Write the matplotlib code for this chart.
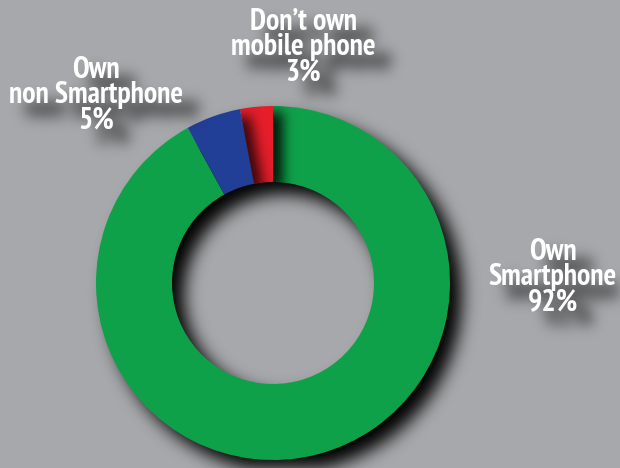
import numpy as np
import matplotlib
matplotlib.use("Agg")
import matplotlib.pyplot as plt
from matplotlib import font_manager

# Survey shares
labels = ["Don\u2019t own\nmobile phone", "Own\nnon Smartphone", "Own\nSmartphone"]
shares = [3, 5, 92]
colors = ["#e61e2a", "#223f97", "#0fa14a"]

W, H, DPI = 620, 468, 100
BG = "#a7a8ab"
CENTER = (273, 185)
RADIUS = 177
RING = 76
LABEL_XY = [(303, 421), (96, 373), (553, 191)]

names = {f.name for f in font_manager.fontManager.ttflist}
FONT = ["PT Sans Narrow", "Liberation Sans", "DejaVu Sans"]
FONT = [f for f in FONT if f in names] or ["DejaVu Sans"]
TEXT_KW = dict(ha="center", va="center", fontsize=21.5, fontweight="bold",
               family=FONT, linespacing=0.88)


def gaussian_blur(a, sigma):
    r = int(3 * sigma)
    x = np.arange(-r, r + 1)
    k = np.exp(-x ** 2 / (2 * sigma ** 2))
    k /= k.sum()
    a = np.pad(a, r, mode="constant")
    a = np.apply_along_axis(lambda v: np.convolve(v, k, mode="valid"), 0, a)
    a = np.apply_along_axis(lambda v: np.convolve(v, k, mode="valid"), 1, a)
    return a


def shift(a, dx, dy):
    out = np.zeros_like(a)
    out[dy:, dx:] = a[:a.shape[0] - dy, :a.shape[1] - dx]
    return out


def setup(ax):
    ax.set_xlim(0, W)
    ax.set_ylim(0, H)
    ax.set_aspect("auto")
    ax.axis("off")


def draw_pie(ax):
    wedges, _ = ax.pie(shares, colors=colors, startangle=90, counterclock=True,
                       radius=RADIUS, center=CENTER,
                       wedgeprops=dict(width=RING, linewidth=0))
    return wedges


def draw_labels(ax, color, zorder=10):
    for (x, y), lab, s in zip(LABEL_XY, labels, shares):
        ax.text(x, y, f"{lab}\n{s}%", color=color, zorder=zorder, **TEXT_KW)


def alpha_mask(draw):
    f = plt.figure(figsize=(W / DPI, H / DPI), dpi=DPI)
    f.patch.set_alpha(0)
    a = f.add_axes([0, 0, 1, 1])
    draw(a)
    setup(a)
    f.canvas.draw()
    m = np.asarray(f.canvas.buffer_rgba())[..., 3].astype(float) / 255.0
    plt.close(f)
    return m


def only_wedge(i):
    def draw(ax):
        ws = draw_pie(ax)
        for j, w in enumerate(ws):
            w.set_visible(j == i)
            w.set_facecolor("black")
    return draw


def shadow_image(mask, dx, dy, sigma, strength):
    m = gaussian_blur(shift(mask, dx, dy), sigma)
    img = np.zeros((H, W, 4))
    img[..., 3] = np.clip(m * strength, 0, 1)
    return img


ring_mask = alpha_mask(lambda ax: draw_pie(ax))
red_mask = alpha_mask(only_wedge(0))
blue_mask = alpha_mask(only_wedge(1))
text_mask = alpha_mask(lambda ax: draw_labels(ax, "black"))

fig = plt.figure(figsize=(W / DPI, H / DPI), dpi=DPI, facecolor=BG)
ax = fig.add_axes([0, 0, 1, 1])
ax.set_facecolor(BG)

wedges = draw_pie(ax)
wedges[2].set_zorder(2)
wedges[0].set_zorder(4)
wedges[1].set_zorder(6)

ext = dict(extent=(0, W, 0, H), origin="upper", interpolation="bilinear")
ax.imshow(shadow_image(ring_mask, 12, 12, 8.5, 1.0), zorder=1, **ext)
im_r = ax.imshow(shadow_image(red_mask, 10, 6, 6, 0.85), zorder=3, **ext)
im_r.set_clip_path(wedges[2])
im_b = ax.imshow(shadow_image(blue_mask, 10, 6, 6, 0.75), zorder=5, **ext)
im_b.set_clip_path(wedges[0])
ax.imshow(shadow_image(text_mask, 16, 14, 7, 0.85), zorder=7, **ext)

draw_labels(ax, "white", zorder=8)
setup(ax)

fig.savefig("out.png", dpi=DPI, facecolor=BG)
